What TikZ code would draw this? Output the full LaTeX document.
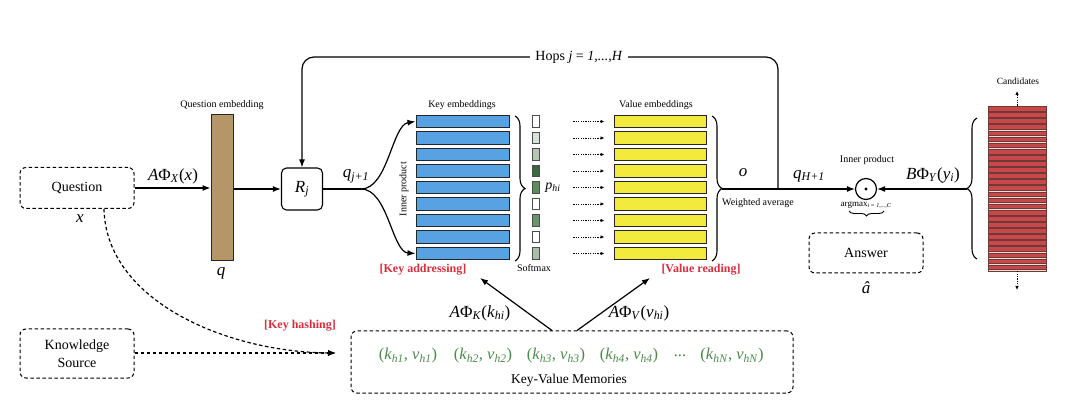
\documentclass[tikz,border=0pt]{standalone}
\usepackage{fontspec}
\setmainfont{Liberation Serif}
\usetikzlibrary{arrows.meta,decorations.pathreplacing,calc}
\newcommand\fsz[1]{\fontsize{#1}{#1}\selectfont}
\newcommand\mi[1]{\textit{#1}}
\newcommand\sbx[1]{\textsubscript{\textit{#1}}}
\definecolor{keyblue}{HTML}{58A2E4}
\definecolor{valyellow}{HTML}{F2EA3C}
\definecolor{tanbar}{HTML}{B59669}
\definecolor{stripered}{HTML}{C9474A}
\definecolor{stripeedge}{HTML}{6E3A36}
\definecolor{stripegap}{HTML}{E9DCD2}
\definecolor{labred}{HTML}{D6303F}
\definecolor{kvgreen}{HTML}{4C8A4C}
\definecolor{smA}{HTML}{D8E3D8}
\definecolor{smB}{HTML}{B3C8B3}
\definecolor{smC}{HTML}{3E683E}
\definecolor{smD}{HTML}{5D8B5D}
\definecolor{smE}{HTML}{6A956A}
\definecolor{smF}{HTML}{A6BFA6}
\tikzset{
 lab/.style={inner sep=0pt, font=\fsz{10}},
 mlab/.style={inner sep=0pt, font=\fsz{17}},
 dbox/.style={draw, dash pattern=on 3.5pt off 2.5pt, rounded corners=6pt, line width=1pt, inner sep=0pt},
 arr/.style={line width=1.2pt, -{Latex[length=8pt,width=6pt]}},
 darr/.style={arr, dash pattern=on 3.5pt off 2.5pt},
 dotarr/.style={line width=0.9pt, dash pattern=on 1.2pt off 1.2pt, -{Latex[length=4pt,width=3.5pt]}},
 keyrow/.style={draw=black!85, line width=1pt, fill=keyblue, minimum width=93pt, minimum height=12.5pt, inner sep=0pt},
 valrow/.style={keyrow, fill=valyellow, minimum width=92pt},
 smcell/.style={draw=black!70, line width=0.6pt, minimum width=7pt, minimum height=11.5pt, inner sep=0pt},
 brc/.style={decorate, decoration={brace, amplitude=10pt}, line width=1.1pt},
 redlab/.style={text=labred, font=\fsz{12}\bfseries, inner sep=0pt},
 kvlab/.style={text=kvgreen, font=\fsz{16.5}, inner sep=0pt},
}
\begin{document}
\begin{tikzpicture}[x=1pt,y=-1pt]
\useasboundingbox[fill=white] (0,0) rectangle (1080,406);

% Question
\node[dbox, minimum width=114pt, minimum height=41pt, font=\fsz{14}] (Q) at (77,188) {Question};
\node[mlab] (xl) at (80,219) {\mi{x}};
% question embedding
\node[draw=black!85, line width=1pt, fill=tanbar, minimum width=22pt, minimum height=146pt, inner sep=0pt] (qe) at (222,188) {};
\node[lab] (qel) at (222,105) {Question embedding};
\node[mlab] (ql) at (221,273) {\mi{q}};
\draw[arr] (Q.east) -- (qe.west |- Q.east);
\node[mlab] (aphix) at (173,176) {\mi{A}Φ\sbx{X}(\mi{x})};
% R_j
\node[draw, line width=1.1pt, rounded corners=5pt, minimum width=41pt, minimum height=42pt, inner sep=0pt, font=\fsz{17}] (Rj) at (302,189) {\mi{R}\sbx{j}};
\draw[arr] (qe.east |- Rj.west) -- (Rj.west);
\node[mlab] (qj) at (356,176) {\mi{q}\sbx{j+1}};

% rows
\foreach \i/\c in {0/white,1/smA,2/smB,3/smC,4/smD,5/white,6/smE,7/white,8/smF}{
  \pgfmathsetmacro\yy{121.5+16.5*\i}
  \node[keyrow] (k\i) at (462.5,\yy) {};
  \node[smcell, fill=\c] (s\i) at (535.5,\yy) {};
  \node[valrow] (v\i) at (660,\yy) {};
  \draw[dotarr] ([xshift=34pt]s\i.east) -- ([xshift=-9pt]v\i.west);
}
\node[lab] (kel) at (462,105) {Key embeddings};
\node[lab] (vel) at (656,105) {Value embeddings};
\node[lab] (smx) at (534,268) {Softmax};
\node[inner sep=0pt, font=\fsz{14}] (phi) at (553,188) {\mi{p}\sbx{hi}};
\node[lab, rotate=90] (ipl) at (404,189) {Inner product};

% split
\coordinate (split) at (361,189);
\draw[line width=1.2pt] (Rj.east) -- (split);
\draw[arr] (split) .. controls (388,189) and (392,125) .. (k0.west);
\draw[arr] (split) .. controls (388,189) and (392,252) .. (k8.west);

% braces
\draw[brc] (515,116) -- (515,261);
\draw[brc] (712,116) -- (712,261);
\coordinate (otip) at (722,189);

% hops loop
\coordinate (hop) at (778,189);
\draw[arr, rounded corners=12pt] (hop) -- (778,57) -- (302,57) -- (Rj.north);
\node[fill=white, inner xsep=5pt, inner ysep=2pt, font=\fsz{14}] (hops) at (579,57) {Hops \mi{j} = \mi{1,...,H}};

% inner product
\node[circle, draw, line width=1.2pt, minimum size=21pt, inner sep=0pt] (dot) at (866,189) {};
\fill (dot.center) circle (1.6pt);
\draw[arr] (otip) -- (dot.west);
\node[mlab] (ol) at (743,173) {\mi{o}};
\node[lab] (wa) at (758,203) {Weighted average};
\node[mlab] (qH) at (809,176) {\mi{q}\sbx{H+1}};
\node[lab] (ipl2) at (867,160) {Inner product};
\node[inner sep=0pt, font=\fsz{9}] (amax) at (866,205) {argmax\textsubscript{\textit{i = 1,...,C}}};
\draw[decorate, decoration={brace, amplitude=5pt}, line width=0.9pt] (884,211) -- (849,211);
\node[dbox, minimum width=114pt, minimum height=40pt, font=\fsz{14}] (ans) at (866,253) {Answer};
\node[mlab] (ahat) at (866,288) {\mi{â}};

% candidates
\node[fill=stripegap, draw=stripeedge, line width=0.6pt, minimum width=58pt, minimum height=165pt, inner sep=0pt] (cand) at (1017,188.5) {};
\foreach \i in {0,...,26}{
  \pgfmathsetmacro\ya{106.4+6.1*\i}
  \pgfmathsetmacro\yb{\ya+4.7}
  \filldraw[fill=stripered, draw=stripeedge, line width=0.4pt] (988,\ya) rectangle (1046,\yb);
}
\coordinate (cup) at (1017,91);
\coordinate (cdn) at (1017,290);
\draw[dotarr] (cand.north) -- (cup);
\draw[dotarr] (cand.south) -- (cdn);
\node[inner sep=0pt, font=\fsz{9.5}] (candl) at (1018,81) {Candidates};
\draw[brc] (977,259) -- (977,118);
\coordinate (ctip) at (967,189);
\draw[arr] (ctip) -- (dot.east);
\node[mlab] (bphi) at (933,175) {\mi{B}Φ\sbx{Y}(\mi{y}\sbx{i})};

% knowledge source / memories
\node[dbox, minimum width=114pt, minimum height=49pt, font=\fsz{14}, align=center] (KS) at (77,353.5) {Knowledge\\[4pt]Source};
\node[dbox, minimum width=442pt, minimum height=62pt] (kv) at (572,362) {};
\coordinate (khend) at (336,353);
\draw[darr] (KS.east |- khend) -- (khend);
\draw[darr] ([xshift=27pt]Q.south) .. controls (106,300) and (225,352) .. (khend);
\node[redlab] (khl) at (300,326) {[Key hashing]};
\node[kvlab] (p1) at (408,356) {(\mi{k}\sbx{h1}, \mi{v}\sbx{h1})};
\node[kvlab] (p2) at (483,356) {(\mi{k}\sbx{h2}, \mi{v}\sbx{h2})};
\node[kvlab] (p3) at (556,356) {(\mi{k}\sbx{h3}, \mi{v}\sbx{h3})};
\node[kvlab] (p4) at (629,356) {(\mi{k}\sbx{h4}, \mi{v}\sbx{h4})};
\node[kvlab] (pd) at (680,356) {...};
\node[kvlab] (pN) at (732,356) {(\mi{k}\sbx{hN}, \mi{v}\sbx{hN})};
\node[inner sep=0pt, font=\fsz{13.5}] (kvm) at (569,380) {Key-Value Memories};

% addressing / reading
\node[redlab] (ka) at (423,270) {[Key addressing]};
\node[redlab] (vr) at (701,270) {[Value reading]};
\coordinate (kaend) at (480,278);
\coordinate (vrend) at (650,278);
\draw[arr] ([xshift=-20pt]kv.north) -- (kaend);
\draw[arr] ([xshift=5pt]kv.north) -- (vrend);
\node[mlab] (aphik) at (480,313) {\mi{A}Φ\sbx{K}(\mi{k}\sbx{hi})};
\node[mlab] (aphiv) at (639,313) {\mi{A}Φ\sbx{V}(\mi{v}\sbx{hi})};
\end{tikzpicture}
\end{document}
